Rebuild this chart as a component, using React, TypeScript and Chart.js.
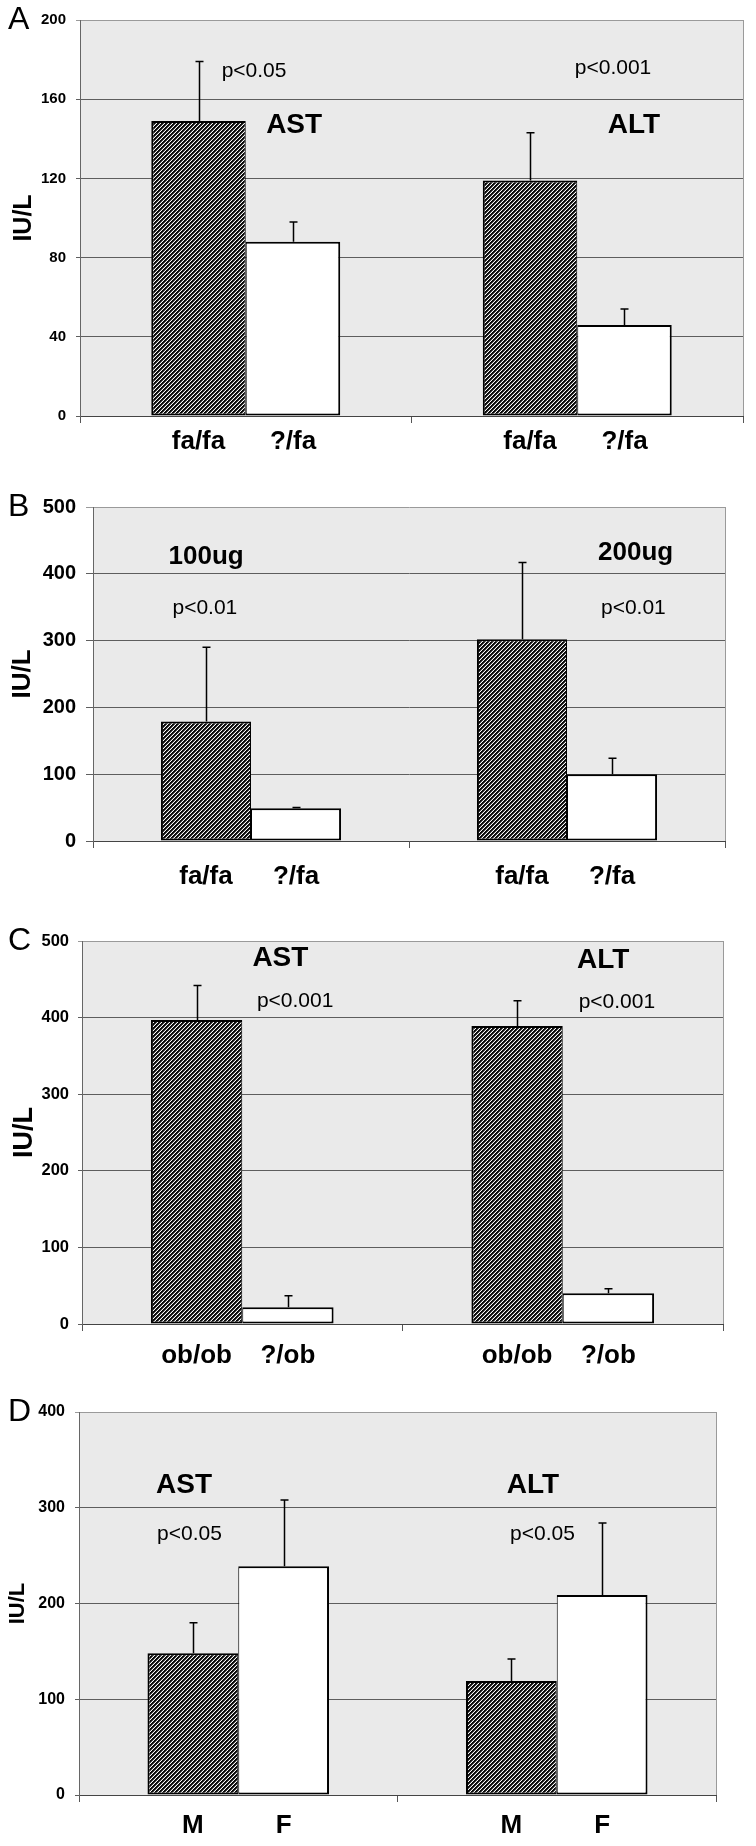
import React, { useEffect, useRef } from "react";
import { Chart, registerables } from "chart.js";

Chart.register(...registerables);

const FONT = "'Liberation Sans', Arial, Helvetica, sans-serif";

// ---------- Panel A ----------
const aCategories = ["AST", "ALT"];
const aSeries = ["fa/fa", "?/fa"];
const aFaFa = [149, 119];
const aFaFaErr = [30, 24];
const aOther = [88, 46];
const aOtherErr = [10, 8];
const aPValues = ["p<0.05", "p<0.001"];
const aYTicks = [0, 40, 80, 120, 160, 200];

// ---------- Panel B ----------
const bCategories = ["100ug", "200ug"];
const bSeries = ["fa/fa", "?/fa"];
const bFaFa = [179, 302];
const bFaFaErr = [111, 115];
const bOther = [49, 100];
const bOtherErr = [1, 24];
const bPValues = ["p<0.01", "p<0.01"];
const bYTicks = [0, 100, 200, 300, 400, 500];

// ---------- Panel C ----------
const cCategories = ["AST", "ALT"];
const cSeries = ["ob/ob", "?/ob"];
const cObOb = [397, 389];
const cObObErr = [45, 33];
const cOther = [22, 40];
const cOtherErr = [15, 6];
const cPValues = ["p<0.001", "p<0.001"];
const cYTicks = [0, 100, 200, 300, 400, 500];

// ---------- Panel D ----------
const dCategories = ["AST", "ALT"];
const dSeries = ["M", "F"];
const dMale = [148, 119];
const dMaleErr = [32, 23];
const dFemale = [239, 209];
const dFemaleErr = [69, 75];
const dPValues = ["p<0.05", "p<0.05"];
const dYTicks = [0, 100, 200, 300, 400];

const yTitle = "IU/L";

type Note = { text: string; cat: number; off: number; y: number; bold: boolean; size: number };
type Panel = {
  letter: string;
  top: number;
  height: number;
  left: number;
  right: number;
  padTop: number;
  xHeight: number;
  categories: string[];
  series: string[];
  values: number[][];
  errors: number[][];
  yTicks: number[];
  tickFont: number;
  tickLen: number;
  tickPad: number;
  titleSize: number;
  titlePad: number;
  labelOffset: number;
  notes: Note[];
};

const panels: Panel[] = [
  {
    letter: "A", top: 0, height: 460, left: 80, right: 743, padTop: 20, xHeight: 44,
    categories: aCategories, series: aSeries,
    values: [aFaFa, aOther], errors: [aFaFaErr, aOtherErr],
    yTicks: aYTicks, tickFont: 15, tickLen: 4, tickPad: 10,
    titleSize: 25, titlePad: 11.5, labelOffset: 26,
    notes: [
      { text: aCategories[0], cat: 0, off: 0.146, y: 147, bold: true, size: 28 },
      { text: aPValues[0], cat: 0, off: 0.025, y: 174, bold: false, size: 21 },
      { text: aCategories[1], cat: 1, off: 0.171, y: 147, bold: true, size: 28 },
      { text: aPValues[1], cat: 1, off: 0.108, y: 175.5, bold: false, size: 21 },
    ],
  },
  {
    letter: "B", top: 460, height: 440, left: 93, right: 725, padTop: 47, xHeight: 59,
    categories: bCategories, series: bSeries,
    values: [bFaFa, bOther], errors: [bFaFaErr, bOtherErr],
    yTicks: bYTicks, tickFont: 20, tickLen: 7, tickPad: 10,
    titleSize: 26, titlePad: 10, labelOffset: 36,
    notes: [
      { text: bCategories[0], cat: 0, off: -0.142, y: 425, bold: true, size: 26 },
      { text: bPValues[0], cat: 0, off: -0.146, y: 348.5, bold: false, size: 21 },
      { text: bCategories[1], cat: 1, off: 0.217, y: 431, bold: true, size: 26 },
      { text: bPValues[1], cat: 1, off: 0.21, y: 348.5, bold: false, size: 21 },
    ],
  },
  {
    letter: "C", top: 900, height: 470, left: 82, right: 723, padTop: 41, xHeight: 46,
    categories: cCategories, series: cSeries,
    values: [cObOb, cOther], errors: [cObObErr, cOtherErr],
    yTicks: cYTicks, tickFont: 16.5, tickLen: 4, tickPad: 9,
    titleSize: 27, titlePad: 11.5, labelOffset: 32,
    notes: [
      { text: cCategories[0], cat: 0, off: 0.119, y: 478, bold: true, size: 28 },
      { text: cPValues[0], cat: 0, off: 0.165, y: 421, bold: false, size: 21 },
      { text: cCategories[1], cat: 1, off: 0.126, y: 475, bold: true, size: 28 },
      { text: cPValues[1], cat: 1, off: 0.169, y: 420, bold: false, size: 21 },
    ],
  },
  {
    letter: "D", top: 1370, height: 476, left: 79, right: 716, padTop: 42, xHeight: 51,
    categories: dCategories, series: dSeries,
    values: [dMale, dFemale], errors: [dMaleErr, dFemaleErr],
    yTicks: dYTicks, tickFont: 16, tickLen: 4, tickPad: 10,
    titleSize: 22, titlePad: 7, labelOffset: 31,
    notes: [
      { text: dCategories[0], cat: 0, off: -0.17, y: 323, bold: true, size: 28 },
      { text: dPValues[0], cat: 0, off: -0.153, y: 272, bold: false, size: 21 },
      { text: dCategories[1], cat: 1, off: -0.075, y: 323, bold: true, size: 28 },
      { text: dPValues[1], cat: 1, off: -0.045, y: 272, bold: false, size: 21 },
    ],
  },
];

function makeHatch(canvas: HTMLCanvasElement): CanvasPattern | string {
  const tile = document.createElement("canvas");
  tile.width = 4;
  tile.height = 4;
  const g = tile.getContext("2d");
  if (!g) return "#333";
  const img = g.createImageData(4, 4);
  const shades = [10, 10, 80, 250];
  for (let y = 0; y < 4; y++) {
    for (let x = 0; x < 4; x++) {
      const v = shades[(x + y) % 4];
      const k = (y * 4 + x) * 4;
      img.data[k] = v;
      img.data[k + 1] = v;
      img.data[k + 2] = v;
      img.data[k + 3] = 255;
    }
  }
  g.putImageData(img, 0, 0);
  const ctx = canvas.getContext("2d");
  return (ctx && ctx.createPattern(tile, "repeat")) || "#333";
}

const overlayPlugin = {
  id: "overlay",
  beforeDraw(chart: any) {
    const { ctx, chartArea: a } = chart;
    ctx.save();
    ctx.fillStyle = "#eaeaea";
    ctx.fillRect(a.left, a.top, a.right - a.left, a.bottom - a.top);
    ctx.strokeStyle = "#9a9a9a";
    ctx.lineWidth = 1;
    ctx.beginPath();
    ctx.moveTo(Math.round(a.right) + 0.5, a.top);
    ctx.lineTo(Math.round(a.right) + 0.5, a.bottom);
    ctx.stroke();
    ctx.restore();
  },
  afterDatasetsDraw(chart: any) {
    const { ctx } = chart;
    const yScale = chart.scales.y;
    ctx.save();
    ctx.strokeStyle = "#000";
    ctx.lineWidth = 1.5;
    chart.data.datasets.forEach((ds: any, i: number) => {
      const meta = chart.getDatasetMeta(i);
      meta.data.forEach((bar: any, j: number) => {
        const v = ds.data[j];
        const e = ds.errors[j];
        const x = Math.round(bar.x) + 0.5;
        const yTop = yScale.getPixelForValue(v + e);
        const yBase = yScale.getPixelForValue(v);
        ctx.beginPath();
        ctx.moveTo(x, yBase);
        ctx.lineTo(x, yTop);
        ctx.moveTo(x - 4, yTop);
        ctx.lineTo(x + 4, yTop);
        ctx.stroke();
      });
    });
    ctx.restore();
  },
  afterDraw(chart: any, _args: any, opts: any) {
    const { ctx, chartArea: a } = chart;
    const xScale = chart.scales.x;
    const yScale = chart.scales.y;
    const p: Panel = opts.panel;
    ctx.save();
    ctx.fillStyle = "#000";
    ctx.textBaseline = "middle";
    ctx.textAlign = "center";
    p.notes.forEach((n) => {
      ctx.font = `${n.bold ? "bold " : ""}${n.size}px ${FONT}`;
      ctx.fillText(n.text, xScale.getPixelForValue(n.cat + n.off), yScale.getPixelForValue(n.y));
    });
    ctx.font = `bold 26px ${FONT}`;
    chart.data.datasets.forEach((ds: any, i: number) => {
      const meta = chart.getDatasetMeta(i);
      meta.data.forEach((bar: any) => {
        ctx.fillText(ds.label, bar.x, a.bottom + p.labelOffset);
      });
    });
    ctx.textAlign = "left";
    ctx.font = `32px ${FONT}`;
    ctx.fillText(p.letter, 8, a.top);
    ctx.restore();
  },
};

function PanelChart({ p }: { p: Panel }) {
  const ref = useRef<HTMLCanvasElement>(null);
  useEffect(() => {
    const canvas = ref.current;
    if (!canvas) return;
    const hatch = makeHatch(canvas);
    const yMax = p.yTicks[p.yTicks.length - 1];
    const chart = new Chart(canvas, {
      type: "bar",
      data: {
        labels: p.categories,
        datasets: p.series.map((s, i) => ({
          label: s,
          data: p.values[i],
          errors: p.errors[i],
          backgroundColor: i === 0 ? hatch : "#ffffff",
          borderColor: "#000",
          borderWidth: i === 0 ? { top: 2, left: 2, right: 1, bottom: 2 } : { top: 2, left: 1, right: 2, bottom: 2 },
          borderSkipped: false,
          categoryPercentage: 0.57,
          barPercentage: 1,
        })) as any,
      },
      options: {
        responsive: false,
        animation: false,
        devicePixelRatio: 1,
        layout: { padding: { top: p.padTop, right: 756 - p.right, bottom: 0, left: 0 } },
        plugins: {
          legend: { display: false },
          tooltip: { enabled: false },
          overlay: { panel: p },
        } as any,
        scales: {
          x: {
            type: "category",
            offset: true,
            ticks: { display: false },
            grid: {
              display: true,
              offset: true,
              drawOnChartArea: false,
              drawTicks: true,
              tickLength: 7,
              color: "#555",
              lineWidth: 1,
            },
            border: { display: true, color: "#444", width: 1 },
            afterFit: (scale: any) => {
              scale.height = p.xHeight;
            },
          },
          y: {
            type: "linear",
            min: p.yTicks[0],
            max: yMax,
            afterBuildTicks: (scale: any) => {
              scale.ticks = p.yTicks.map((v) => ({ value: v }));
            },
            ticks: {
              color: "#000",
              padding: p.tickPad,
              font: { family: FONT, size: p.tickFont, weight: "bold" },
            },
            grid: {
              color: (c: any) => (c.tick && c.tick.value === yMax ? "#9a9a9a" : "#5e5e5e"),
              lineWidth: 1,
              tickLength: p.tickLen,
              drawTicks: true,
            },
            border: { display: true, color: "#666", width: 1 },
            title: {
              display: true,
              text: yTitle,
              color: "#000",
              font: { family: FONT, size: p.titleSize, weight: "bold", lineHeight: 1 },
              padding: { top: p.titlePad, bottom: 0 },
            },
            afterFit: (scale: any) => {
              scale.width = p.left;
            },
          },
        },
      } as any,
      plugins: [overlayPlugin as any],
    });
    return () => chart.destroy();
  }, [p]);
  return (
    <canvas
      ref={ref}
      width={756}
      height={p.height}
      style={{ position: "absolute", left: 0, top: p.top, width: 756, height: p.height, display: "block" }}
    />
  );
}

export default function App() {
  return (
    <div style={{ position: "absolute", left: 0, top: 0, width: 756, height: 1846, background: "#ffffff" }}>
      {panels.map((p) => (
        <PanelChart key={p.letter} p={p} />
      ))}
    </div>
  );
}
